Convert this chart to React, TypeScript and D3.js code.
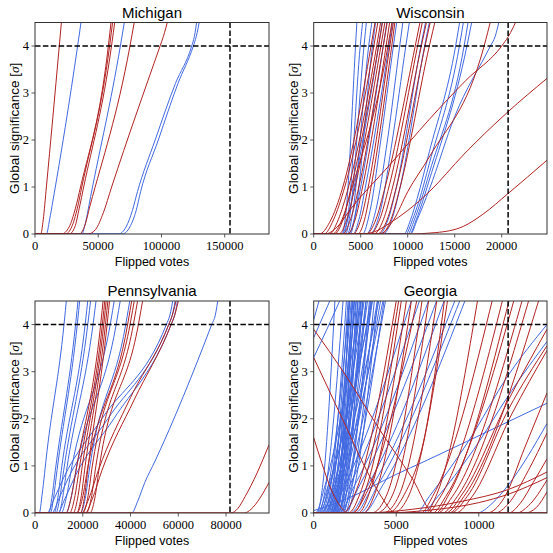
import React from 'react';
import * as d3 from 'd3';

type Pt = [number, number];

const stateNames = ['Michigan', 'Wisconsin', 'Pennsylvania', 'Georgia'];
const stateMargins = [154188, 20682, 81660, 11779];
const xRangeFactor = 1.2;
const sigmaThreshold = 4;
const sigmaMax = 4.5;
const yTickValues = [0, 1, 2, 3, 4];
const xTickValues = [
  [0, 50000, 100000, 150000],
  [0, 5000, 10000, 15000, 20000],
  [0, 20000, 40000, 60000, 80000],
  [0, 5000, 10000],
];

// ---------------- Michigan ----------------
const michiganRed: Pt[][] = [
  [[4500, 0], [6500, 0.3], [9000, 1.0], [14000, 2.45], [19200, 4.0], [21200, 4.6]],
  [[21000, 0], [27000, 0.15], [32000, 0.55], [36000, 1.0], [58000, 4.0], [60500, 4.6]],
  [[24000, 0], [29000, 0.15], [33500, 0.55], [37000, 1.0], [59000, 4.0], [61800, 4.6]],
  [[27000, 0], [31500, 0.15], [35000, 0.55], [38500, 1.0], [60500, 4.0], [63500, 4.6]],
  [[35000, 0], [39000, 0.15], [43500, 0.6], [75100, 4.0], [79100, 4.6]],
  [[42000, 0], [48000, 0.1], [54000, 0.45], [60600, 1.0], [98900, 4.0], [101500, 4.2], [105500, 4.6]],
];
const michiganBlue: Pt[][] = [
  [[9000, 0], [11500, 0.3], [14000, 0.68], [33700, 4.0], [36900, 4.6]],
  [[37000, 0], [40000, 0.25], [44000, 0.8], [67500, 4.0], [71200, 4.6]],
  [[66000, 0], [72000, 0.15], [77000, 0.5], [81000, 0.9], [95000, 2.0], [111000, 3.2], [123900, 4.0], [126000, 4.2], [128300, 4.6]],
  [[69000, 0], [75000, 0.15], [80000, 0.5], [83500, 0.9], [97500, 2.0], [113000, 3.2], [125200, 4.0], [127500, 4.2], [130500, 4.6]],
];

// ---------------- Wisconsin ----------------
const wisconsinBlue: Pt[][] = [
  [[3000, 0], [3400, 0.4], [4450, 4.0], [4620, 4.6]],
  [[3200, 0], [3650, 0.4], [4950, 4.0], [5250, 4.6]],
  [[3400, 0], [3850, 0.4], [5350, 4.0], [5650, 4.6]],
  [[3600, 0], [4100, 0.4], [5850, 4.0], [6250, 4.6]],
  [[3900, 0], [4400, 0.4], [6250, 4.0], [6650, 4.6]],
  [[3000, 0], [3600, 0.3], [4300, 1.0], [6900, 4.0], [7350, 4.6]],
  [[3700, 0], [4300, 0.3], [5000, 1.0], [7400, 4.0], [7850, 4.6]],
  [[4200, 0], [4800, 0.3], [5500, 1.0], [8000, 4.0], [8450, 4.6]],
  [[5200, 0], [6000, 0.5], [7140, 2.0], [8480, 4.0], [8900, 4.6]],
  [[5600, 0], [6600, 0.5], [7850, 2.0], [9150, 4.0], [9550, 4.6]],
  [[6000, 0], [7100, 0.5], [8370, 2.0], [9800, 4.0], [10250, 4.6]],
  [[7000, 0], [7900, 0.3], [8800, 1.0], [11400, 4.0], [12000, 4.6]],
  [[7400, 0], [8300, 0.3], [9200, 1.0], [11800, 4.0], [12400, 4.6]],
  [[9600, 0], [10300, 0.3], [11000, 0.75], [12300, 1.75], [15100, 4.0], [15600, 4.6]],
  [[9800, 0], [10500, 0.3], [11200, 0.7], [12300, 1.5], [15500, 4.0], [16000, 4.6]],
  [[10000, 0], [10700, 0.3], [11400, 0.7], [12300, 1.3], [16000, 4.0], [16500, 4.6]],
  [[10200, 0], [10900, 0.3], [11600, 0.7], [12300, 1.15], [16300, 4.0], [16900, 4.6]],
  [[10300, 0], [11000, 0.3], [12300, 0.95], [15000, 2.5], [18800, 4.0], [19300, 4.2], [19800, 4.6]],
];
const wisconsinRed: Pt[][] = [
  [[600, 0], [1700, 0.25], [3100, 1.0], [6100, 4.0], [6600, 4.6]],
  [[1100, 0], [2100, 0.3], [3300, 1.0], [6400, 4.0], [6900, 4.6]],
  [[1700, 0], [2600, 0.3], [3700, 1.0], [6700, 4.0], [7200, 4.6]],
  [[2200, 0], [3100, 0.3], [4000, 1.0], [6900, 4.0], [7400, 4.6]],
  [[2700, 0], [3500, 0.3], [4400, 1.0], [7150, 4.0], [7650, 4.6]],
  [[3100, 0], [3900, 0.3], [4800, 1.0], [7400, 4.0], [7900, 4.6]],
  [[3600, 0], [4400, 0.3], [5200, 1.0], [7700, 4.0], [8150, 4.6]],
  [[4200, 0], [5000, 0.3], [5800, 1.0], [8100, 4.0], [8550, 4.6]],
  [[2000, 0], [3000, 0.3], [4100, 1.0], [7900, 4.0], [8400, 4.6]],
  [[4700, 0], [5400, 0.3], [6100, 1.0], [8300, 4.0], [8700, 4.6]],
  [[5600, 0], [6600, 0.3], [7600, 1.0], [10800, 4.0], [11400, 4.6]],
  [[6000, 0], [7000, 0.3], [8000, 1.0], [11050, 4.0], [11650, 4.6]],
  [[6400, 0], [7400, 0.3], [8400, 1.0], [11450, 4.0], [12100, 4.6]],
  [[6800, 0], [7800, 0.3], [8800, 1.0], [11850, 4.0], [12500, 4.6]],
  [[7200, 0], [8200, 0.3], [9200, 1.0], [12300, 4.0], [13000, 4.6]],
  [[7000, 0], [8500, 0.3], [10000, 0.9], [12300, 1.64], [18130, 4.0], [18900, 4.6]],
  [[1200, 0], [2500, 0.15], [4000, 0.55], [8000, 1.45], [12300, 2.44], [16200, 3.27], [20000, 4.0], [20700, 4.2], [21700, 4.6]],
  [[5000, 0], [6500, 0.05], [8000, 0.22], [10000, 0.5], [12300, 0.9], [16000, 1.7], [20670, 2.6], [24818, 3.31]],
  [[10000, 0], [13000, 0.03], [15900, 0.16], [18000, 0.42], [20670, 0.86], [24818, 1.57]],
];

// ---------------- Pennsylvania ----------------
const pennsylvaniaBlue: Pt[][] = [
  [[1800, 0], [3000, 0.4], [5000, 1.3], [12150, 4.0], [13300, 4.6]],
  [[5800, 0], [7000, 0.3], [8500, 0.9], [17000, 4.0], [18200, 4.6]],
  [[6500, 0], [7700, 0.3], [9200, 0.9], [17700, 4.0], [18900, 4.6]],
  [[8000, 0], [9500, 0.3], [11000, 0.9], [21000, 4.0], [22300, 4.6]],
  [[8800, 0], [10300, 0.3], [12000, 0.9], [22100, 4.0], [23500, 4.6]],
  [[10000, 0], [11500, 0.3], [13200, 0.9], [24300, 4.0], [25800, 4.6]],
  [[11000, 0], [13000, 0.3], [15500, 1.0], [31500, 4.0], [33500, 4.6]],
  [[13000, 0], [15000, 0.3], [17500, 1.0], [34000, 4.0], [36000, 4.6]],
  [[19000, 0], [21000, 0.3], [23000, 1.0], [38000, 4.0], [40000, 4.6]],
  [[5000, 0], [8000, 0.3], [12000, 0.75], [28000, 2.0], [55000, 4.0], [56500, 4.2], [58000, 4.6]],
  [[7000, 0], [10000, 0.3], [14000, 0.75], [30500, 2.0], [56000, 4.0], [57500, 4.2], [59000, 4.6]],
  [[9500, 0], [12500, 0.3], [17000, 0.8], [33000, 2.0], [57000, 4.0], [58500, 4.2], [60000, 4.6]],
  [[40500, 0], [43000, 0.25], [46000, 0.65], [50250, 1.1], [74000, 4.0], [75500, 4.2], [76800, 4.6]],
];
const pennsylvaniaRed: Pt[][] = [
  [[13000, 0], [15000, 0.3], [17500, 1.0], [27500, 4.0], [28700, 4.6]],
  [[14500, 0], [16500, 0.3], [18700, 1.0], [28200, 4.0], [29400, 4.6]],
  [[16000, 0], [17800, 0.3], [19800, 1.0], [28800, 4.0], [30000, 4.6]],
  [[17500, 0], [19200, 0.3], [21000, 1.0], [29500, 4.0], [30700, 4.6]],
  [[19000, 0], [20600, 0.3], [22300, 1.0], [30200, 4.0], [31400, 4.6]],
  [[17500, 0], [19800, 0.3], [22200, 1.0], [38800, 4.0], [40800, 4.6]],
  [[20000, 0], [22000, 0.3], [24000, 1.0], [39800, 4.0], [41900, 4.6]],
  [[21500, 0], [23500, 0.3], [25500, 1.0], [41200, 4.0], [43300, 4.6]],
  [[23000, 0], [25000, 0.3], [27000, 1.0], [43300, 4.0], [45400, 4.6]],
  [[19500, 0], [22500, 0.3], [26500, 0.9], [40000, 2.45], [56000, 4.0], [57500, 4.2], [59500, 4.6]],
  [[21000, 0], [24000, 0.3], [28000, 0.9], [41500, 2.4], [57000, 4.0], [58500, 4.2], [60500, 4.6]],
  [[82000, 0], [85000, 0.1], [88000, 0.35], [93000, 0.85], [97992, 1.45]],
  [[87500, 0], [90500, 0.08], [94000, 0.3], [97992, 0.65]],
];

// ---------------- Georgia ----------------
const georgiaBlue: Pt[][] = [
  [[200, 0], [550, 0.6], [1300, 4.6]],
  [[300, 0], [750, 0.6], [1800, 4.6]],
  [[400, 0], [900, 0.6], [2200, 4.6]],
  [[500, 0], [1000, 0.6], [2600, 4.6]],
  [[600, 0], [1050, 0.6], [2000, 4.6]],
  [[700, 0], [1150, 0.6], [2300, 4.6]],
  [[800, 0], [1200, 0.6], [2100, 4.6]],
  [[900, 0], [1300, 0.6], [2400, 4.6]],
  [[1000, 0], [1350, 0.6], [2200, 4.6]],
  [[1000, 0], [1450, 0.6], [2700, 4.6]],
  [[1100, 0], [1500, 0.6], [2500, 4.6]],
  [[1150, 0], [1500, 0.6], [2350, 4.6]],
  [[1200, 0], [1600, 0.6], [2800, 4.6]],
  [[1300, 0], [1650, 0.6], [2450, 4.6]],
  [[1300, 0], [1700, 0.6], [3000, 4.6]],
  [[1400, 0], [1750, 0.6], [2600, 4.6]],
  [[1500, 0], [1850, 0.6], [2700, 4.6]],
  [[1600, 0], [1950, 0.6], [3200, 4.6]],
  [[1700, 0], [2050, 0.6], [2900, 4.6]],
  [[1800, 0], [2200, 0.6], [3400, 4.6]],
  [[1900, 0], [2350, 0.6], [3700, 4.6]],
  [[200, 0], [900, 0.6], [3600, 4.6]],
  [[400, 0], [1300, 0.6], [4000, 4.6]],
  [[600, 0], [1500, 0.6], [4250, 4.6]],
  [[800, 0], [1400, 0.6], [3300, 4.6]],
  [[1100, 0], [1700, 0.6], [3900, 4.6]],
  [[300, 0], [1000, 0.6], [3100, 4.6]],
  [[500, 0], [1200, 0.6], [3500, 4.6]],
  [[700, 0], [1300, 0.6], [2900, 4.6]],
  [[900, 0], [1500, 0.6], [3200, 4.6]],
  [[1000, 0], [1600, 0.6], [3600, 4.6]],
  [[1200, 0], [1800, 0.6], [4100, 4.6]],
  [[1400, 0], [2000, 0.6], [4400, 4.6]],
  [[1500, 0], [1900, 0.6], [3000, 4.6]],
  [[1600, 0], [2100, 0.6], [3500, 4.6]],
  [[1700, 0], [2300, 0.6], [4300, 4.6]],
  [[2000, 0], [2500, 0.6], [3900, 4.6]],
  [[100, 0], [700, 0.6], [2900, 4.6]],
  [[1200, 0], [1550, 0.6], [2150, 4.6]],
  [[1350, 0], [1700, 0.6], [2350, 4.6]],
  [[1000, 0], [1900, 0.6], [6000, 4.6]],
  [[1300, 0], [2200, 0.6], [6500, 4.6]],
  [[1500, 0], [2500, 0.6], [7050, 4.6]],
  [[1800, 0], [2800, 0.6], [7550, 4.6]],
  [[2200, 0], [3300, 0.6], [8000, 4.6]],
  [[2500, 0], [3600, 0.6], [8660, 4.6]],
  [[2800, 0], [3900, 0.6], [8960, 4.6]],
  [[3000, 0], [4200, 0.6], [9270, 4.6]],
  [[0, 3.72], [600, 4.2], [1100, 4.6]],
  [[0, 3.3], [800, 3.9], [1700, 4.6]],
  [[0, 4.1], [400, 4.6]],
  [[0, 0.05], [2000, 0.3], [5000, 0.82], [6743, 1.1], [11800, 1.94], [14135, 2.33]],
  [[6200, 0], [7000, 0.35], [9370, 1.52], [11800, 2.93], [14135, 4.0]],
  [[6600, 0], [7400, 0.3], [9700, 1.35], [12000, 2.6], [14135, 3.64]],
  [[9900, 0], [10800, 0.2], [11800, 0.6], [14135, 1.9]],
];
const georgiaRed: Pt[][] = [
  [[0, 3.9], [1920, 2.93], [3940, 1.8], [5960, 0.74], [7300, 0]],
  [[0, 3.3], [1000, 2.55], [2000, 1.8], [3000, 1.05], [4000, 0.4], [5000, 0]],
  [[0, 1.6], [500, 1.05], [1000, 0.55], [1500, 0.2], [2100, 0]],
  [[1800, 0], [2600, 0.5], [5050, 4.6]],
  [[2100, 0], [2900, 0.5], [5190, 4.6]],
  [[2400, 0], [3150, 0.5], [5350, 4.6]],
  [[2700, 0], [3450, 0.5], [5660, 4.6]],
  [[3000, 0], [3800, 0.5], [5960, 4.6]],
  [[2300, 0], [3300, 0.5], [6300, 4.6]],
  [[4500, 0], [5500, 0.4], [6743, 1.66], [7950, 4.6]],
  [[4800, 0], [5800, 0.4], [8150, 4.6]],
  [[4200, 0], [5200, 0.4], [7500, 4.6]],
  [[3800, 0], [4800, 0.4], [7000, 4.6]],
  [[3500, 0], [4500, 0.45], [6600, 4.6]],
  [[6800, 0], [7400, 0.35], [9970, 4.6]],
  [[6500, 0], [7200, 0.35], [10880, 4.6]],
  [[6900, 0], [7600, 0.3], [11500, 4.6]],
  [[7400, 0], [8200, 0.4], [11900, 4.6]],
  [[7200, 0], [8000, 0.35], [12200, 4.6]],
  [[7500, 0], [8400, 0.35], [12700, 4.6]],
  [[7800, 0], [8700, 0.35], [13100, 4.6]],
  [[8200, 0], [9100, 0.35], [13710, 4.6]],
  [[8000, 0], [9000, 0.4], [11800, 2.4], [14135, 3.9]],
  [[8300, 0], [9300, 0.35], [11800, 2.2], [14135, 3.55]],
  [[8600, 0], [9600, 0.35], [12000, 2.1], [14135, 3.45]],
  [[10500, 0], [11500, 0.3], [12800, 1.4], [14135, 2.55]],
  [[11000, 0], [11800, 0.2], [13000, 0.9], [14135, 1.7]],
  [[11800, 0], [12500, 0.2], [13300, 0.65], [14135, 1.15]],
  [[12300, 0], [13000, 0.15], [14135, 0.7]],
  [[12800, 0], [13500, 0.12], [14135, 0.45]],
  [[3000, 0], [6000, 0.08], [9000, 0.25], [11800, 0.5], [14135, 0.87]],
  [[4000, 0], [7000, 0.06], [10000, 0.22], [11800, 0.4], [14135, 0.75]],
];

const stateBlue = [michiganBlue, wisconsinBlue, pennsylvaniaBlue, georgiaBlue];
const stateRed = [michiganRed, wisconsinRed, pennsylvaniaRed, georgiaRed];

// ---------------- layout & style ----------------
const W = 553;
const H = 553;
const panels = [
  { x: 35, y: 22.5, w: 234, h: 211.5 },
  { x: 313.7, y: 22.5, w: 233.3, h: 211.5 },
  { x: 35, y: 301, w: 234, h: 212 },
  { x: 313.7, y: 301, w: 233.3, h: 212 },
];
const RED = '#b22222';
const BLUE = '#4169e1';
const SANS = '"Liberation Sans", Arial, sans-serif';
const SERIF = '"Liberation Serif", "Times New Roman", serif';

function withBaseline(p: Pt[], xmax: number): Pt[] {
  const out = p.slice();
  if (out[0][1] === 0 && out[0][0] > 0) out.unshift([0, 0]);
  const last = out[out.length - 1];
  if (last[1] === 0 && last[0] < xmax) out.push([xmax, 0]);
  return out;
}

function Panel({ i }: { i: number }) {
  const b = panels[i];
  const xmax = stateMargins[i] * xRangeFactor;
  const xs = d3.scaleLinear().domain([0, xmax]).range([b.x, b.x + b.w]);
  const ys = d3.scaleLinear().domain([0, sigmaMax]).range([b.y + b.h, b.y]);
  const line = d3
    .line<Pt>()
    .x((d) => xs(d[0]))
    .y((d) => ys(d[1]))
    .curve(d3.curveMonotoneX);
  const clipId = `clip-${i}`;
  const yb = b.y + b.h;
  return (
    <g>
      <defs>
        <clipPath id={clipId}>
          <rect x={b.x} y={b.y} width={b.w} height={b.h} />
        </clipPath>
      </defs>
      <g clipPath={`url(#${clipId})`} fill="none" strokeWidth={1}>
        {stateBlue[i].map((c, k) => (
          <path key={'b' + k} d={line(withBaseline(c, xmax)) || ''} stroke={BLUE} />
        ))}
        {stateRed[i].map((c, k) => (
          <path key={'r' + k} d={line(withBaseline(c, xmax)) || ''} stroke={RED} />
        ))}
        <line x1={b.x} x2={b.x + b.w} y1={ys(sigmaThreshold)} y2={ys(sigmaThreshold)} stroke="#000" strokeWidth={1.5} strokeDasharray="5.5,2.4" />
        <line x1={xs(stateMargins[i])} x2={xs(stateMargins[i])} y1={b.y} y2={yb} stroke="#000" strokeWidth={1.5} strokeDasharray="5.5,2.4" />
      </g>
      <rect x={b.x} y={b.y} width={b.w} height={b.h} fill="none" stroke="#333" strokeWidth={1} />
      {xTickValues[i].map((t) => (
        <g key={'xt' + t}>
          <line x1={xs(t)} x2={xs(t)} y1={yb} y2={yb + 3.5} stroke="#333" strokeWidth={0.8} />
          <text x={xs(t)} y={yb + 15.5} textAnchor="middle" fontFamily={SERIF} fontSize={12.5} fill="#000">
            {t}
          </text>
        </g>
      ))}
      {yTickValues.map((t) => (
        <g key={'yt' + t}>
          <line x1={b.x - 3.5} x2={b.x} y1={ys(t)} y2={ys(t)} stroke="#333" strokeWidth={0.8} />
          <text x={b.x - 6} y={ys(t) + 4.3} textAnchor="end" fontFamily={SERIF} fontSize={12.5} fill="#000">
            {t}
          </text>
        </g>
      ))}
      <text x={b.x + b.w / 2} y={b.y - 5} textAnchor="middle" fontFamily={SANS} fontSize={15} fill="#000">
        {stateNames[i]}
      </text>
      <text x={b.x + b.w / 2} y={yb + 32} textAnchor="middle" fontFamily={SANS} fontSize={12.5} fill="#000">
        Flipped votes
      </text>
      <text
        transform={`translate(${b.x - 16},${b.y + b.h / 2}) rotate(-90)`}
        textAnchor="middle"
        fontFamily={SANS}
        fontSize={13.5}
        fill="#000"
      >
        {'Global significance ['}
        <tspan fontFamily={SERIF} fontStyle="italic">σ</tspan>
        {']'}
      </text>
    </g>
  );
}

export default function App() {
  return (
    <svg width={W} height={H} style={{ position: 'absolute', left: 0, top: 0 }}>
      <rect x={0} y={0} width={W} height={H} fill="#fff" />
      {[0, 1, 2, 3].map((i) => (
        <Panel key={i} i={i} />
      ))}
    </svg>
  );
}
